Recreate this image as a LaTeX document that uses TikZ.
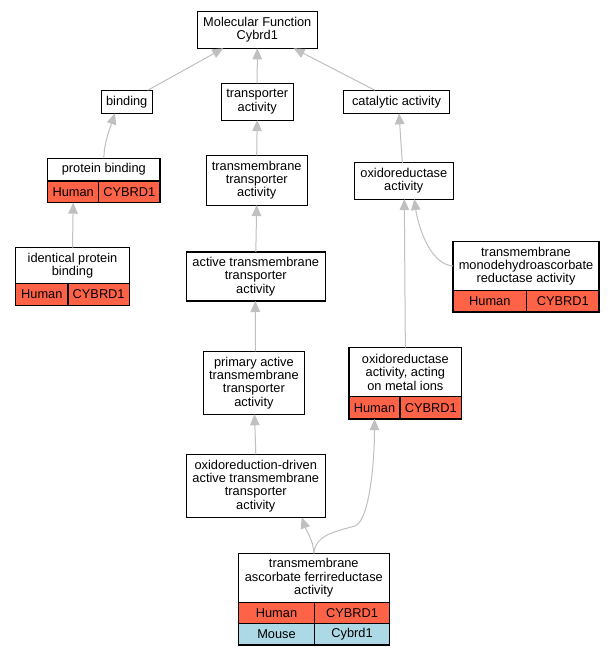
\documentclass[tikz,border=0pt]{standalone}
\usepackage{fontspec}
\setmainfont{Liberation Sans}
\usetikzlibrary{arrows.meta,positioning}

\definecolor{human}{RGB}{255,99,71}
\definecolor{mouse}{RGB}{173,216,230}
\definecolor{edgegray}{RGB}{192,192,192}

\tikzset{
  term/.style={draw, line width=1.1pt, fill=white, align=center, inner sep=1pt, outer sep=0pt,
    font=\fontsize{12.8}{13.3}\selectfont},
  humancell/.style={term, fill=human},
  mousecell/.style={term, fill=mouse},
  isa/.style={draw=edgegray, line width=1pt, -{Triangle[length=11pt, width=9.5pt, fill=edgegray]}},
}

\begin{document}
\begin{tikzpicture}[x=1pt, y=-1pt]

   \path[use as bounding box, fill=white] (0,0) rectangle (613,656);

   % top level
   \node[term, minimum width=120pt, minimum height=36.6pt] (mf) at (257.3,30) {Molecular Function\\Cybrd1};
   \node[term, minimum width=51.3pt, minimum height=23pt] (bind) at (126.7,101.8) {binding};
   \node[term, minimum width=72.3pt, minimum height=36.7pt] (tra) at (257.2,101.7) {transporter\\activity};
   \node[term, minimum width=105.6pt, minimum height=23pt] (cat) at (396.5,101.8) {catalytic activity};

   % binding branch
   \node[term, minimum width=112.3pt, minimum height=22.7pt, anchor=north west] (pb) at (47.7,158.3) {protein binding};
   \node[humancell, minimum width=51pt, minimum height=21.7pt, anchor=north west] (pbh) at (pb.south west) {Human};
   \node[humancell, minimum width=61.3pt, minimum height=21.7pt, anchor=north west] (pbg) at (pbh.north east) {CYBRD1};

   \node[term, minimum width=113.6pt, minimum height=35.6pt, anchor=north west] (ipb) at (15.7,247.7) {identical protein\\binding};
   \node[humancell, minimum width=52.3pt, minimum height=22pt, anchor=north west] (ipbh) at (ipb.south west) {Human};
   \node[humancell, minimum width=61.3pt, minimum height=22pt, anchor=north west] (ipbg) at (ipbh.north east) {CYBRD1};

   % transporter branch
   \node[term, minimum width=100.7pt, minimum height=49.7pt] (tmt) at (256.7,180.2) {transmembrane\\transporter\\activity};
   \node[term, minimum width=139pt, minimum height=49pt] (atmt) at (255.8,276.5) {active transmembrane\\transporter\\activity};
   \node[term, minimum width=100.3pt, minimum height=63pt] (patmt) at (253.9,382.8) {primary active\\transmembrane\\transporter\\activity};
   \node[term, minimum width=139pt, minimum height=63pt] (odat) at (255.8,485.8) {oxidoreduction-driven\\active transmembrane\\transporter\\activity};

   % catalytic branch
   \node[term, minimum width=99pt, minimum height=36.3pt] (oxi) at (403.8,180.9) {oxidoreductase\\activity};

   \node[term, minimum width=146pt, minimum height=49.4pt, anchor=north west] (mdr) at (453,241.3) {transmembrane\\monodehydroascorbate\\reductase activity};
   \node[humancell, minimum width=73.7pt, minimum height=21.3pt, anchor=north west] (mdrh) at (mdr.south west) {Human};
   \node[humancell, minimum width=72.3pt, minimum height=21.3pt, anchor=north west] (mdrg) at (mdrh.north east) {CYBRD1};

   \node[term, minimum width=112.7pt, minimum height=49pt, anchor=north west] (oxm) at (349,347.7) {oxidoreductase\\activity, acting\\on metal ions};
   \node[humancell, minimum width=51pt, minimum height=22.3pt, anchor=north west] (oxmh) at (oxm.south west) {Human};
   \node[humancell, minimum width=61.7pt, minimum height=22.3pt, anchor=north west] (oxmg) at (oxmh.north east) {CYBRD1};

   % annotated term
   \node[term, minimum width=151pt, minimum height=49pt, anchor=north west] (afr) at (238.3,553.3) {transmembrane\\ascorbate ferrireductase\\activity};
   \node[humancell, minimum width=76.4pt, minimum height=21.4pt, anchor=north west] (afrh) at (afr.south west) {Human};
   \node[humancell, minimum width=74.6pt, minimum height=21.4pt, anchor=north west] (afrg) at (afrh.north east) {CYBRD1};
   \node[mousecell, minimum width=76.4pt, minimum height=21.3pt, anchor=north west] (afrm) at (afrh.south west) {Mouse};
   \node[mousecell, minimum width=74.6pt, minimum height=21.3pt, anchor=north west] (afrc) at (afrm.north east) {Cybrd1};

   % is_a edges
   \draw[isa] ([xshift=21pt]bind.north) -- ([xshift=-34pt]mf.south);
   \draw[isa] (tra.north) -- (mf.south);
   \draw[isa] ([xshift=-21.5pt]cat.north) -- ([xshift=36.3pt]mf.south);

   \draw[isa] (pb.north) .. controls +(0,-15) and +(-5,15) .. ([xshift=-11.7pt]bind.south);
   \draw[isa] (ipb.north) -- (pbh.south);

   \draw[isa] (tmt.north) -- (tra.south);
   \draw[isa] (atmt.north) -- (tmt.south);
   \draw[isa] ([xshift=1.5pt]patmt.north) -- ([xshift=-0.5pt]atmt.south);
   \draw[isa] (odat.north) -- ([xshift=0.6pt]patmt.south);

   \draw[isa] ([xshift=-1.5pt]oxi.north) -- ([xshift=2.5pt]cat.south);
   \draw[isa] (oxm.north) -- ([xshift=0.5pt]oxi.south);
   \draw[isa] (mdr.west) .. controls +(-25,-2) and +(3,22) .. ([xshift=10.5pt]oxi.south);

   \draw[isa] (afr.north) .. controls +(0,-12) and +(4,12) .. ([xshift=46pt]odat.south);
   \draw[isa] (afr.north) .. controls +(2,-18) and +(-22,6) .. (355,526)
      .. controls +(15,-6) and +(0,40) .. (oxmh.south);

\end{tikzpicture}
\end{document}
